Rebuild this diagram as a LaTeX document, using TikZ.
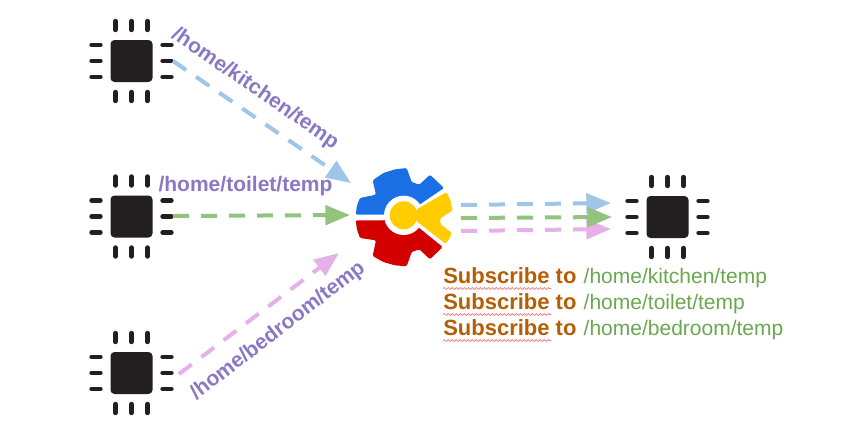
\documentclass[tikz,border=0pt]{standalone}
\usepackage{fontspec}
\setmainfont{Liberation Sans}
\usetikzlibrary{arrows.meta,positioning,decorations.pathmorphing}
\definecolor{mychip}{RGB}{35,31,32}
\definecolor{myblue}{RGB}{159,197,232}
\definecolor{mygreen}{RGB}{147,196,125}
\definecolor{mypink}{RGB}{230,176,232}
\definecolor{mypurple}{RGB}{138,120,196}
\definecolor{mybrown}{RGB}{180,95,6}
\definecolor{mytopic}{RGB}{106,168,79}
\definecolor{logoblue}{RGB}{26,111,228}
\definecolor{logored}{RGB}{212,0,0}
\definecolor{logoyellow}{RGB}{255,204,0}
\tikzset{
    chipbody/.style={fill=mychip, rounded corners=3pt, minimum size=31.5pt, inner sep=0pt},
    chippin/.style={color=mychip, line width=3.3pt, line cap=round},
    flow/.style={line width=3pt, dash pattern=on 12pt off 9pt, -{Triangle[length=18.5pt, width=14.5pt]}},
    topic/.style={color=mypurple, font=\fontsize{15.75}{18}\selectfont\bfseries, inner sep=0pt},
    subword/.style={color=mybrown, font=\fontsize{16.5}{18}\selectfont\bfseries, inner sep=0pt, anchor=base west},
    subpath/.style={color=mytopic, font=\fontsize{15.75}{18}\selectfont, inner sep=0pt},
    spell/.style={color=red!60!white, line width=0.5pt, decorate, decoration={snake, amplitude=0.7pt, segment length=3pt}}
}
% one chip: body and twelve pins
\newcommand{\chip}[3]{
    \node[chipbody] (#1) at (#2, #3) {};
    \foreach \d in {-16, 0, 16} {
        \draw[chippin] (#2 + \d, #3 - 40) -- (#2 + \d, #3 - 31);
        \draw[chippin] (#2 + \d, #3 + 31) -- (#2 + \d, #3 + 40);
        \draw[chippin] (#2 - 40, #3 + \d) -- (#2 - 31, #3 + \d);
        \draw[chippin] (#2 + 31, #3 + \d) -- (#2 + 40, #3 + \d);
    }
}

\begin{document}
\begin{tikzpicture}[x=0.75pt, y=-0.75pt]
    \useasboundingbox (0, 0) rectangle (850, 444);
    \chip{kitchen}{131.5}{61}
    \chip{toilet}{131.5}{216.5}
    \chip{bedroom}{131.5}{373}
    \chip{reader}{667.5}{217}
    % Logo
    \begin{scope}[shift={(350, 162)}, x=0.25pt, y=-0.25pt]
        \fill[logoblue, rounded corners=1pt] (17, 158) -- (21, 130) -- (30, 108) -- (78, 98) -- (68, 55) -- (100, 33)
            -- (135, 22) -- (170, 18) -- (185, 60) -- (208, 68) -- (240, 38) -- (282, 78)
            -- (161, 160) -- (103, 158) -- cycle;
        \fill[logored, rounded corners=1pt] (17, 175) -- (21, 203) -- (30, 228) -- (78, 235) -- (68, 282) -- (100, 300)
            -- (135, 310) -- (170, 313) -- (185, 270) -- (208, 262) -- (240, 292) -- (278, 255)
            -- (161, 160) -- (103, 175) -- cycle;
        \fill[white] (161, 160) circle [radius=59];
        \fill[logoyellow, rounded corners=1pt] (290, 90) -- (302, 118) -- (308, 145) -- (270, 170) -- (272, 187)
            -- (305, 212) -- (298, 230) -- (287, 245) -- (200, 178) -- (200, 142) -- cycle;
        \fill[logoyellow] (161, 160) circle [radius=42];
    \end{scope}
    \coordinate (kitchen-out) at (173, 61);
    \coordinate (toilet-out) at (173, 216);
    \coordinate (bedroom-out) at (179, 374);
    \coordinate (broker-kitchen) at (351, 183);
    \coordinate (broker-toilet) at (350, 215);
    \coordinate (broker-bedroom) at (339, 253);
    \coordinate (broker-outa) at (461, 205);
    \coordinate (broker-outb) at (461, 218);
    \coordinate (broker-outc) at (461, 231);
    \coordinate (reader-ina) at (611, 203);
    \coordinate (reader-inb) at (612, 217);
    \coordinate (reader-inc) at (611, 229);
    \draw[flow, color=myblue] (kitchen-out) -- (broker-kitchen);
    \draw[flow, color=mygreen] (toilet-out) -- (broker-toilet);
    \draw[flow, color=mypink] (bedroom-out) -- (broker-bedroom);
    \draw[flow, color=myblue] (broker-outa) -- (reader-ina);
    \draw[flow, color=mypink] (broker-outc) -- (reader-inc);
    \draw[flow, color=mygreen] (broker-outb) -- (reader-inb);
    \node[topic, rotate=-34.5] (kitchen-topic) at (255, 89) {/home/kitchen/temp};
    \node[topic] (toilet-topic) at (245.5, 186) {/home/toilet/temp};
    \node[topic, rotate=37.5] (bedroom-topic) at (278, 331) {/home/bedroom/temp};
    % Subscriptions
    \node[subword] (sub-a) at (443, 283) {Subscribe to};
    \node[subpath, base right=5pt of sub-a] (path-a) {/home/kitchen/temp};
    \node[subword] (sub-b) at (443, 309) {Subscribe to};
    \node[subpath, base right=5pt of sub-b] (path-b) {/home/toilet/temp};
    \node[subword] (sub-c) at (443, 335) {Subscribe to};
    \node[subpath, base right=5pt of sub-c] (path-c) {/home/bedroom/temp};
    \path (sub-a.base west) ++(0, 5.5) coordinate (wave-a);
    \path (sub-b.base west) ++(0, 5.5) coordinate (wave-b);
    \path (sub-c.base west) ++(0, 5.5) coordinate (wave-c);
    \draw[spell] (wave-a) -- ++(108, 0);
    \draw[spell] (wave-b) -- ++(108, 0);
    \draw[spell] (wave-c) -- ++(108, 0);
\end{tikzpicture}
\end{document}
